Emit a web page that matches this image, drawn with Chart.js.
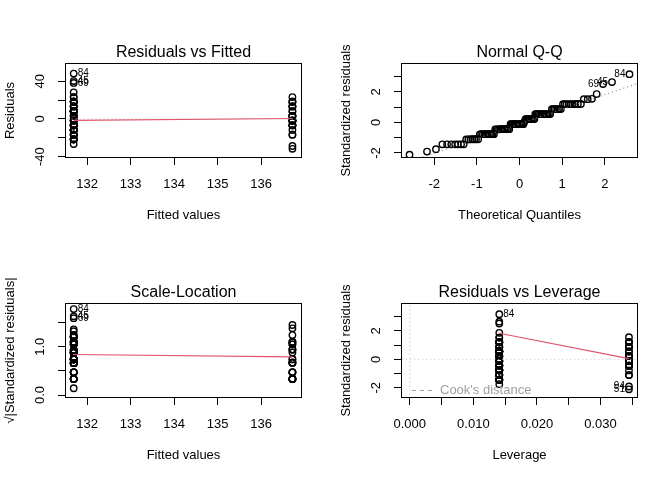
<!DOCTYPE html>
<html>
<head>
<meta charset="utf-8">
<script src="https://cdn.jsdelivr.net/npm/chart.js@4.4.0/dist/chart.umd.min.js"></script>
<style>
body { margin: 0; background: #fff; }
#wrap { position: relative; width: 672px; height: 480px; background: #fff; }
canvas { position: absolute; }
</style>
</head>
<body>
<div id="wrap">
  <canvas id="rvf" width="336" height="240" style="left:0;top:0"></canvas>
  <canvas id="qq" width="336" height="240" style="left:336px;top:0"></canvas>
  <canvas id="sl" width="336" height="240" style="left:0;top:240px"></canvas>
  <canvas id="rvl" width="336" height="240" style="left:336px;top:240px"></canvas>
</div>
<script>
// two groups: fitted value and leverage of each
var fitted = [131.69, 136.72];
var leverage = [0.01408, 0.03448];

// group 1: residual levels, how many obs sit on each, standardized and sqrt(|std|)
var resid1 = [48.31, 40.31, 38.31, 28.31, 23.31, 18.31, 13.31, 8.31, 3.31, 0.31, -1.69, -6.69, -11.69, -16.69, -21.69, -26.69];
var count1 = [1, 1, 1, 1, 2, 6, 4, 11, 5, 1, 6, 9, 10, 5, 7, 1];
var stdres1 = [3.17, 2.65, 2.52, 1.86, 1.53, 1.20, 0.87, 0.55, 0.22, 0.02, -0.11, -0.44, -0.77, -1.10, -1.43, -1.75];
var sqrtstd1 = [1.78, 1.63, 1.59, 1.36, 1.24, 1.10, 0.93, 0.74, 0.47, 0.14, 0.33, 0.66, 0.88, 1.05, 1.20, 1.32];

// group 2
var resid2 = [23.28, 18.28, 13.28, 8.28, 3.28, -1.72, -6.72, -11.72, -16.72, -28.72, -31.72];
var count2 = [1, 3, 3, 2, 4, 7, 4, 1, 2, 1, 1];
var stdres2 = [1.55, 1.21, 0.88, 0.55, 0.22, -0.11, -0.45, -0.78, -1.11, -1.91, -2.11];
var sqrtstd2 = [1.24, 1.10, 0.94, 0.74, 0.47, 0.33, 0.67, 0.88, 1.05, 1.38, 1.45];

// theoretical normal quantiles for the 100 sorted residuals
var qqTheory = [
  -2.58, -2.17, -1.96, -1.81, -1.70, -1.60, -1.51, -1.44, -1.37, -1.31,
  -1.25, -1.20, -1.15, -1.10, -1.06, -1.02, -0.97, -0.93, -0.90, -0.86,
  -0.82, -0.79, -0.76, -0.72, -0.69, -0.66, -0.63, -0.60, -0.57, -0.54,
  -0.51, -0.48, -0.45, -0.43, -0.40, -0.37, -0.35, -0.32, -0.29, -0.27,
  -0.24, -0.21, -0.19, -0.16, -0.14, -0.11, -0.09, -0.06, -0.04, -0.01,
  0.01, 0.04, 0.06, 0.09, 0.11, 0.14, 0.16, 0.19, 0.21, 0.24,
  0.27, 0.29, 0.32, 0.35, 0.37, 0.40, 0.43, 0.45, 0.48, 0.51,
  0.54, 0.57, 0.60, 0.63, 0.66, 0.69, 0.72, 0.76, 0.79, 0.82,
  0.86, 0.90, 0.93, 0.97, 1.02, 1.06, 1.10, 1.15, 1.20, 1.25,
  1.31, 1.37, 1.44, 1.51, 1.60, 1.70, 1.81, 1.96, 2.17, 2.58
];

// smoother (red) and reference lines
var smoothResid = [-1.5, 0.5];
var smoothScale = [0.84, 0.79];
var smoothLev = [1.83, 0.05];
var qqLineX = [-2.8, 2.8];
var qqLineY = [-2.79, 2.59];

var FAMILY = '"Liberation Sans", Arial, Helvetica, sans-serif';
var RED = '#DF536B';

function expand(vals, counts) {
  var out = [];
  vals.forEach(function (v, i) { for (var k = 0; k < counts[i]; k++) out.push(v); });
  return out;
}
function atX(x, ys) { return ys.map(function (y) { return { x: x, y: y }; }); }

function pts(data) {
  return { data: data, showLine: false, pointRadius: 3.2, pointBorderWidth: 1.4,
    pointBorderColor: '#000', pointBackgroundColor: 'rgba(0,0,0,0)',
    borderColor: '#000', backgroundColor: 'rgba(0,0,0,0)' };
}
function seg(xs, ys, color, dash) {
  return { data: xs.map(function (x, i) { return { x: x, y: ys[i] }; }), showLine: true,
    pointRadius: 0, borderColor: color, borderWidth: 1.1, borderDash: dash || [], fill: false };
}

function xAxis(min, max, step, title, fmt) {
  return {
    type: 'linear', min: min, max: max,
    border: { display: false },
    grid: { drawOnChartArea: false, drawTicks: true, tickLength: 7, color: '#000', lineWidth: 1 },
    ticks: { stepSize: step, includeBounds: false, autoSkip: false, maxRotation: 0, padding: 11.5,
      color: '#000', font: { family: FAMILY, size: 13 }, callback: fmt },
    title: { display: true, text: title, color: '#000', font: { family: FAMILY, size: 13 },
      padding: { top: 0, bottom: 17.2 } },
    afterFit: function (s) { s.height = 82; }
  };
}
function yAxis(min, max, step, title, fmt, pad) {
  return {
    type: 'linear', min: min, max: max,
    border: { display: false },
    grid: { drawOnChartArea: false, drawTicks: true, tickLength: 7, color: '#000', lineWidth: 1 },
    ticks: { stepSize: step, includeBounds: false, autoSkip: false, minRotation: 90, maxRotation: 90,
      crossAlign: 'center', padding: pad, color: '#000', font: { family: FAMILY, size: 13 }, callback: fmt },
    title: { display: true, text: title, color: '#000', font: { family: FAMILY, size: 13 },
      padding: { top: 2.2, bottom: 0 } },
    afterFit: function (s) { s.width = 65; }
  };
}

var boxPlugin = {
  id: 'box',
  afterDraw: function (chart) {
    var a = chart.chartArea, c = chart.ctx;
    c.save();
    c.strokeStyle = '#000';
    c.lineWidth = 1;
    c.strokeRect(Math.round(a.left) + 0.5, Math.round(a.top) + 0.5,
      Math.round(a.right - a.left) - 1, Math.round(a.bottom - a.top) - 1);
    c.restore();
  }
};

function idLabels(items) {
  return {
    id: 'idLabels',
    afterDatasetsDraw: function (chart) {
      var c = chart.ctx, xs = chart.scales.x, ys = chart.scales.y;
      c.save();
      c.font = '10px ' + FAMILY;
      c.fillStyle = '#000';
      c.textBaseline = 'middle';
      items.forEach(function (it) {
        var px = xs.getPixelForValue(it.x), py = ys.getPixelForValue(it.y);
        c.textAlign = it.left ? 'right' : 'left';
        c.fillText(it.t, px + (it.left ? -4 : 4), py);
      });
      c.restore();
    }
  };
}

var cookLegend = {
  id: 'cookLegend',
  afterDraw: function (chart) {
    var a = chart.chartArea, c = chart.ctx, y = Math.round(a.bottom - 8) + 0.5;
    c.save();
    c.strokeStyle = '#9E9E9E';
    c.lineWidth = 1;
    c.setLineDash([4, 4]);
    c.beginPath();
    c.moveTo(a.left + 11, y);
    c.lineTo(a.left + 35, y);
    c.stroke();
    c.setLineDash([]);
    c.fillStyle = '#9E9E9E';
    c.font = '13px ' + FAMILY;
    c.textBaseline = 'middle';
    c.textAlign = 'left';
    c.fillText("Cook's distance", a.left + 39, y);
    c.restore();
  }
};

function makeChart(id, title, datasets, xs, ys, extra) {
  return new Chart(document.getElementById(id), {
    type: 'scatter',
    data: { datasets: datasets },
    options: {
      responsive: false,
      animation: false,
      events: [],
      layout: { padding: { left: 0, right: 34, top: 0, bottom: 0 } },
      plugins: {
        legend: { display: false },
        tooltip: { enabled: false },
        title: { display: true, text: title, fullSize: false, color: '#000',
          font: { family: FAMILY, size: 16, weight: 'normal' }, padding: { top: 42.9, bottom: 0.9 } }
      },
      scales: { x: xs, y: ys }
    },
    plugins: [boxPlugin].concat(extra)
  });
}

var every40 = function (v) { return v % 40 === 0 ? String(v) : ''; };
var every2 = function (v) { return v % 2 === 0 ? String(v) : ''; };
var wholeOnly = function (v) { return Math.abs(v - Math.round(v)) < 1e-9 ? v.toFixed(1) : ''; };
var levFmt = function (v) { return Math.round(v * 1000) % 10 === 0 ? v.toFixed(3) : ''; };
var plain = function (v) { return String(v); };

// Residuals vs Fitted
makeChart('rvf', 'Residuals vs Fitted', [
  seg(fitted, smoothResid, RED),
  seg([131, 138], [0, 0], '#BEBEBE', [1, 3]),
  pts(atX(fitted[0], expand(resid1, count1))),
  pts(atX(fitted[1], expand(resid2, count2)))
], xAxis(131.49, 136.94, 1, 'Fitted values', plain),
   yAxis(-41.5, 59.5, 20, 'Residuals', every40, 8.1),
  [idLabels([
    { t: '84', x: fitted[0], y: resid1[0] },
    { t: '45', x: fitted[0], y: resid1[1] },
    { t: '69', x: fitted[0], y: resid1[2] }
  ])]);

// Normal Q-Q
var qqSample = expand(stdres1, count1).concat(expand(stdres2, count2)).sort(function (a, b) { return a - b; });
makeChart('qq', 'Normal Q-Q', [
  seg(qqLineX, qqLineY, '#7F7F7F', [1, 3]),
  pts(qqTheory.map(function (q, i) { return { x: q, y: qqSample[i] }; }))
], xAxis(-2.78, 2.78, 1, 'Theoretical Quantiles', plain),
   yAxis(-2.33, 3.9, 1, 'Standardized residuals', every2, 11.7),
  [idLabels([
    { t: '84', x: qqTheory[99], y: qqSample[99], left: true },
    { t: '45', x: qqTheory[98], y: qqSample[98], left: true },
    { t: '69', x: qqTheory[97], y: qqSample[97], left: true }
  ])]);

// Scale-Location
makeChart('sl', 'Scale-Location', [
  seg(fitted, smoothScale, RED),
  pts(atX(fitted[0], expand(sqrtstd1, count1))),
  pts(atX(fitted[1], expand(sqrtstd2, count2)))
], xAxis(131.49, 136.94, 1, 'Fitted values', plain),
   yAxis(-0.062, 1.905, 0.5, '\u221A|Standardized residuals|', wholeOnly, 8.45),
  [idLabels([
    { t: '84', x: fitted[0], y: sqrtstd1[0] },
    { t: '45', x: fitted[0], y: sqrtstd1[1] },
    { t: '69', x: fitted[0], y: sqrtstd1[2] }
  ])]);

// Residuals vs Leverage
makeChart('rvl', 'Residuals vs Leverage', [
  seg(leverage, smoothLev, RED),
  seg([-0.01, 0.05], [0, 0], '#BEBEBE', [1, 3]),
  seg([0, 0], [-5, 5], '#BEBEBE', [1, 3]),
  pts(atX(leverage[0], expand(stdres1, count1))),
  pts(atX(leverage[1], expand(stdres2, count2)))
], xAxis(-0.00138, 0.0359, 0.005, 'Leverage', levFmt),
   yAxis(-2.72, 3.96, 1, 'Standardized residuals', every2, 11.7),
  [idLabels([
    { t: '84', x: leverage[0], y: stdres1[0] },
    { t: '94', x: leverage[1], y: stdres2[9], left: true },
    { t: '51', x: leverage[1], y: stdres2[10], left: true }
  ]), cookLegend]);
</script>
</body>
</html>
